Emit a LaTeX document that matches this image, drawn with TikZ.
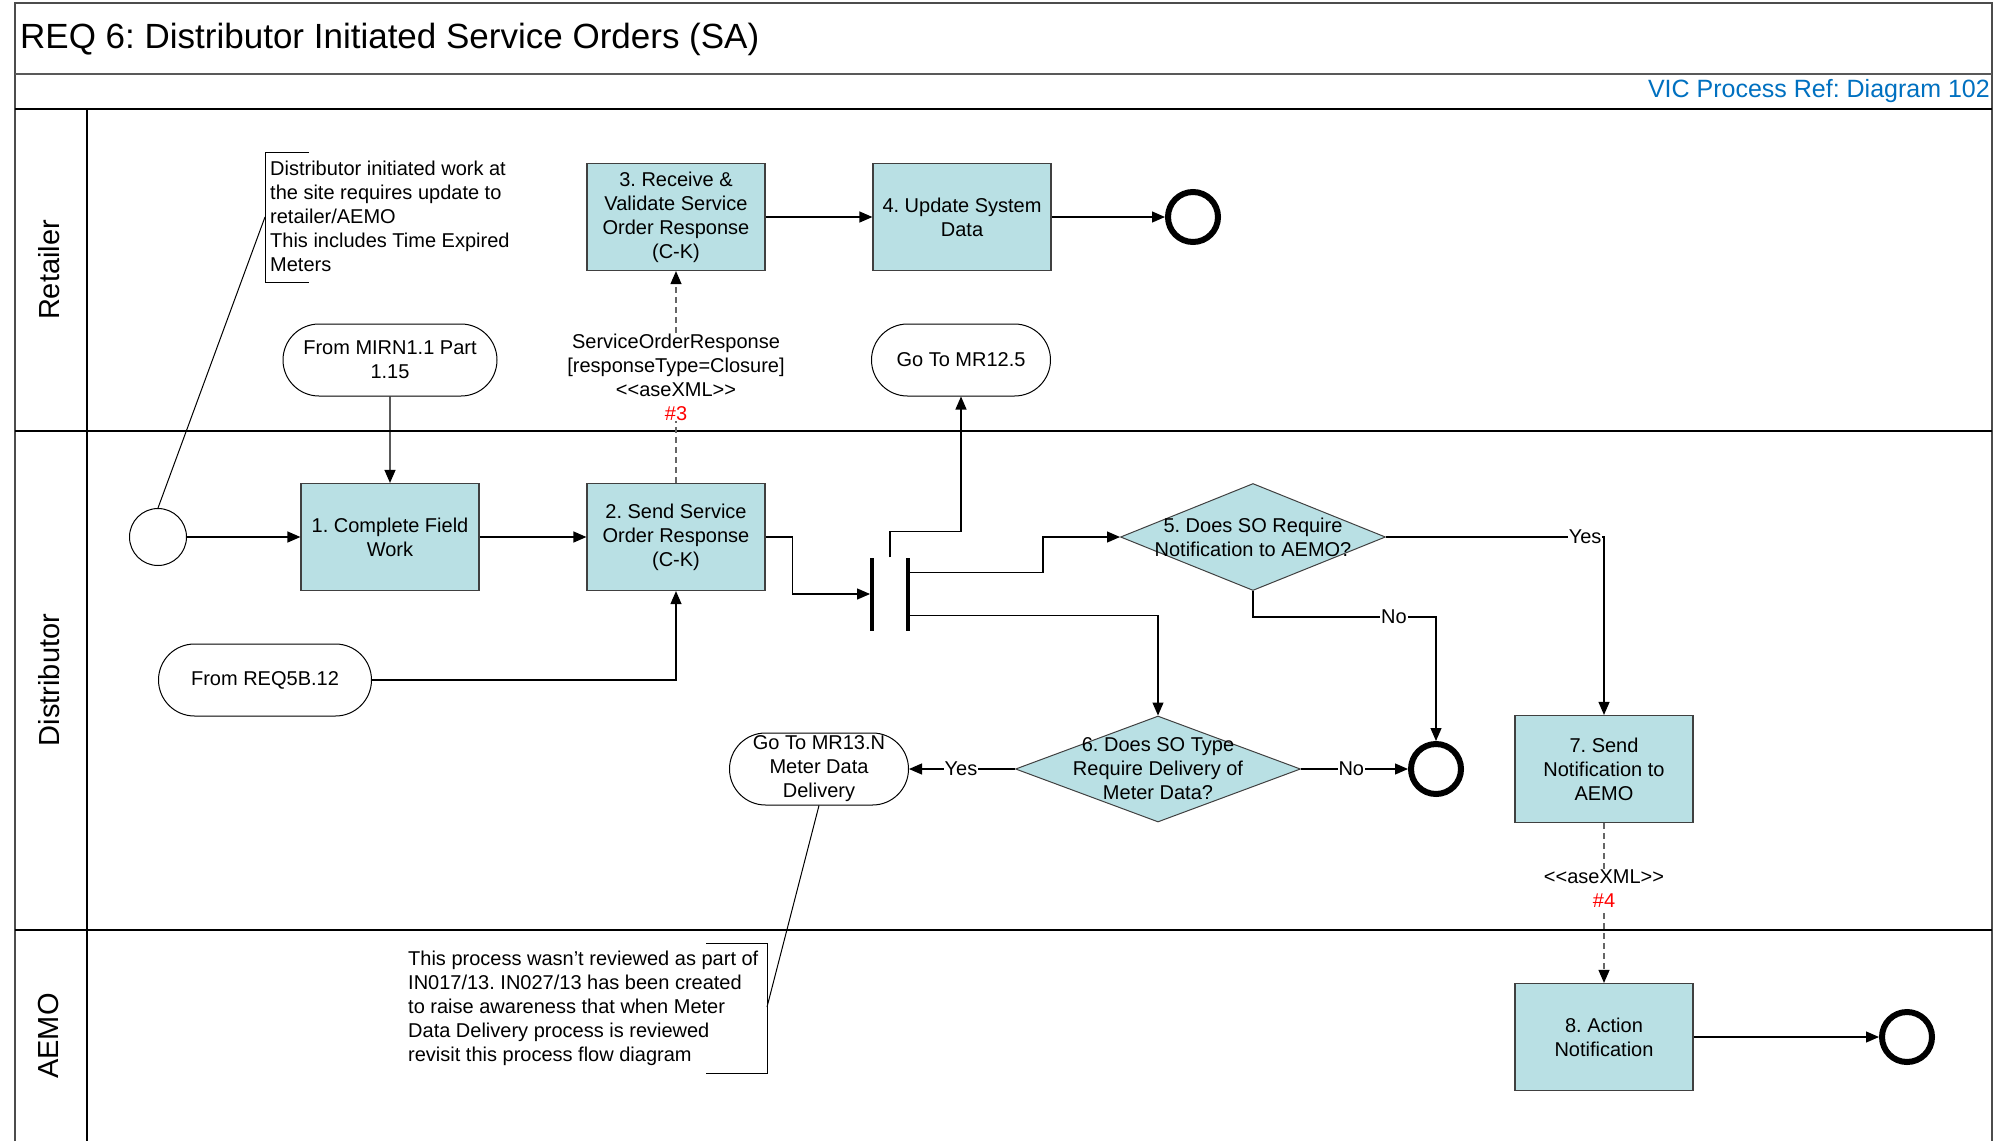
\documentclass[tikz,border=0pt]{standalone}
\usepackage{fontspec}
\setmainfont{Liberation Sans}
\frenchspacing
\usetikzlibrary{arrows.meta,calc,shapes.geometric,shapes.misc}
\definecolor{taskfill}{RGB}{185,224,228}
\definecolor{refblue}{RGB}{0,112,192}
\newcommand{\aseXML}{<\kern0pt<aseXML>\kern0pt>}
\tikzset{task/.style={draw=black!75,fill=taskfill,line width=1.2,minimum width=178,minimum height=107,inner sep=2,align=center}}
\tikzset{term/.style={rounded rectangle,draw,line width=1,minimum width=179,minimum height=72,inner sep=0,align=center}}
\tikzset{gate/.style={diamond,draw=black!75,fill=taskfill,line width=1,inner sep=0}}
\tikzset{endev/.style={circle,draw,line width=6,minimum size=50,inner sep=0,outer sep=3}}
\tikzset{startev/.style={circle,draw,line width=1,minimum size=57,inner sep=0}}
\tikzset{forkbar/.style={fill=black,minimum width=3.5,minimum height=73,inner sep=0}}
\tikzset{flow/.style={->,line width=1.2}}
\tikzset{msgflow/.style={-{Triangle[length=13,width=11,black]},line width=1.2,draw=black!60,dash pattern=on 6pt off 4pt}}
\tikzset{cond/.style={fill=white,inner sep=1}}
\tikzset{note/.style={align=left,inner sep=0,anchor=west}}
\begin{document}
\begin{tikzpicture}[x=1pt,y=-1pt,>={Triangle[length=13,width=11]},font=\fontsize{20}{24}\selectfont]
\useasboundingbox(0,0)rectangle(2006,1141);
\draw[line width=2,black!70](15,1141)--(15,3)--(1992,3)--(1992,1141);\draw[line width=2.5,black!65](15,74)--(1992,74);
\draw[line width=1.6](15,109)--(1992,109);\draw[line width=1.6](15,431)--(1992,431);\draw[line width=1.6](15,930)--(1992,930);\draw[line width=1.2](87,109)--(87,1141);
\node[anchor=west,inner sep=0,font=\fontsize{35}{40}\selectfont](title)at(20,39){REQ 6: Distributor Initiated Service Orders (SA)};
\node[anchor=east,inner sep=0,refblue,font=\fontsize{25}{30}\selectfont](ref)at(1990,91){VIC Process Ref: Diagram 102};
\foreach \lane/\y in {Retailer/270,Distributor/680,AEMO/1036}\node[rotate=90,font=\fontsize{29}{34}\selectfont](lane\lane)at(49,\y){\lane};
\node[startev](start)at(158,537){};
\node[task](fw)at(390,537){1. Complete Field\\Work};
\node[task](sendso)at(676,537){2. Send Service\\Order Response\\(C-K)};
\node[task](recso)at(676,217){3. Receive \&\\Validate Service\\Order Response\\(C-K)};
\node[task](upd)at(962,217){4. Update System\\Data};
\node[endev](endR)at(1193,217){};
\node[term,minimum width=214](fromMIRN)at(390,360){From MIRN1.1 Part\\1.15};
\node[term,minimum width=213](fromREQ)at(265,680){From REQ5B.12};
\node[term](toMR12)at(961,360){Go To MR12.5};
\node[forkbar](barA)at(872,594){};\node[forkbar](barB)at(908,594){};
\node[gate,minimum width=265,minimum height=107](qAEMO)at(1253,537){};\node[align=center]at(qAEMO){5. Does SO Require\\Notification to AEMO?};
\node[gate,minimum width=285,minimum height=106](qMDD)at(1158,769){};\node[align=center]at(qMDD){6. Does SO Type\\Require Delivery of\\Meter Data?};
\node[term](toMR13)at(819,769){Go To MR13.N\\Meter Data\\Delivery};
\node[endev](endD)at(1436,769){};
\node[task](notify)at(1604,769){7. Send\\Notification to\\AEMO};
\node[task](action)at(1604,1037){8. Action\\Notification};
\node[endev](endA)at(1907,1037){};
\draw[flow](start)--(fw);\draw[flow](fw)--(sendso);\draw[flow](fromMIRN)--(fw);\draw[flow](fromREQ)-|(sendso);
\draw[flow](recso)--(upd);\draw[flow](upd)--(endR);
\draw[msgflow](sendso)--node[fill=white,inner sep=1,align=center]{ServiceOrderResponse\\{}[responseType=Closure]\\\aseXML\\\textcolor{red}{\#3}}(recso);
\draw[flow](sendso.east)--++(27,0)|-(barA.west);
\draw[flow]($(barA.north)!.5!(barB.north)$)--++(0,-26)-|(toMR12.south);
\draw[flow]([yshift=21.5pt]barB.east)--++(133,0)|-(qAEMO.west);
\draw[flow]([yshift=-21.5pt]barB.east)-|(qMDD.north);
\draw[flow](qAEMO.east)-|node[pos=.5,anchor=east,xshift=-1,cond]{Yes}(notify.north);
\draw[flow](qAEMO.south)--++(0,26)-|node[pos=.385,cond]{No}(endD.north);
\draw[flow](qMDD.east)--node[pos=.47,cond]{No}(endD.west);
\draw[flow](qMDD.west)--node[pos=.51,cond]{Yes}(toMR13.east);
\draw[msgflow](notify)--node[pos=.41,fill=white,inner sep=1,align=center]{\aseXML\\\textcolor{red}{\#4}}(action);
\draw[flow](action)--(endA);
\draw[line width=1](309,152)-|(265,282)--(309,282);\coordinate(noteA)at(265,217);
\node[note](noteAtxt)at(270,216){Distributor initiated work at\\the site requires update to\\retailer/AEMO\\This includes Time Expired\\Meters};
\draw[line width=1](start.north)--(noteA);
\draw[line width=1](706,943)-|(767,1073)--(706,1073);\coordinate(noteB)at(767,1007);
\node[note](noteBtxt)at(408,1008){This process wasn’t reviewed as part of\\IN017/13. IN027/13 has been created\\to raise awareness that when Meter\\Data Delivery process is reviewed\\revisit this process flow diagram};
\draw[line width=1](noteB)--(toMR13.south);
\end{tikzpicture}
\end{document}
